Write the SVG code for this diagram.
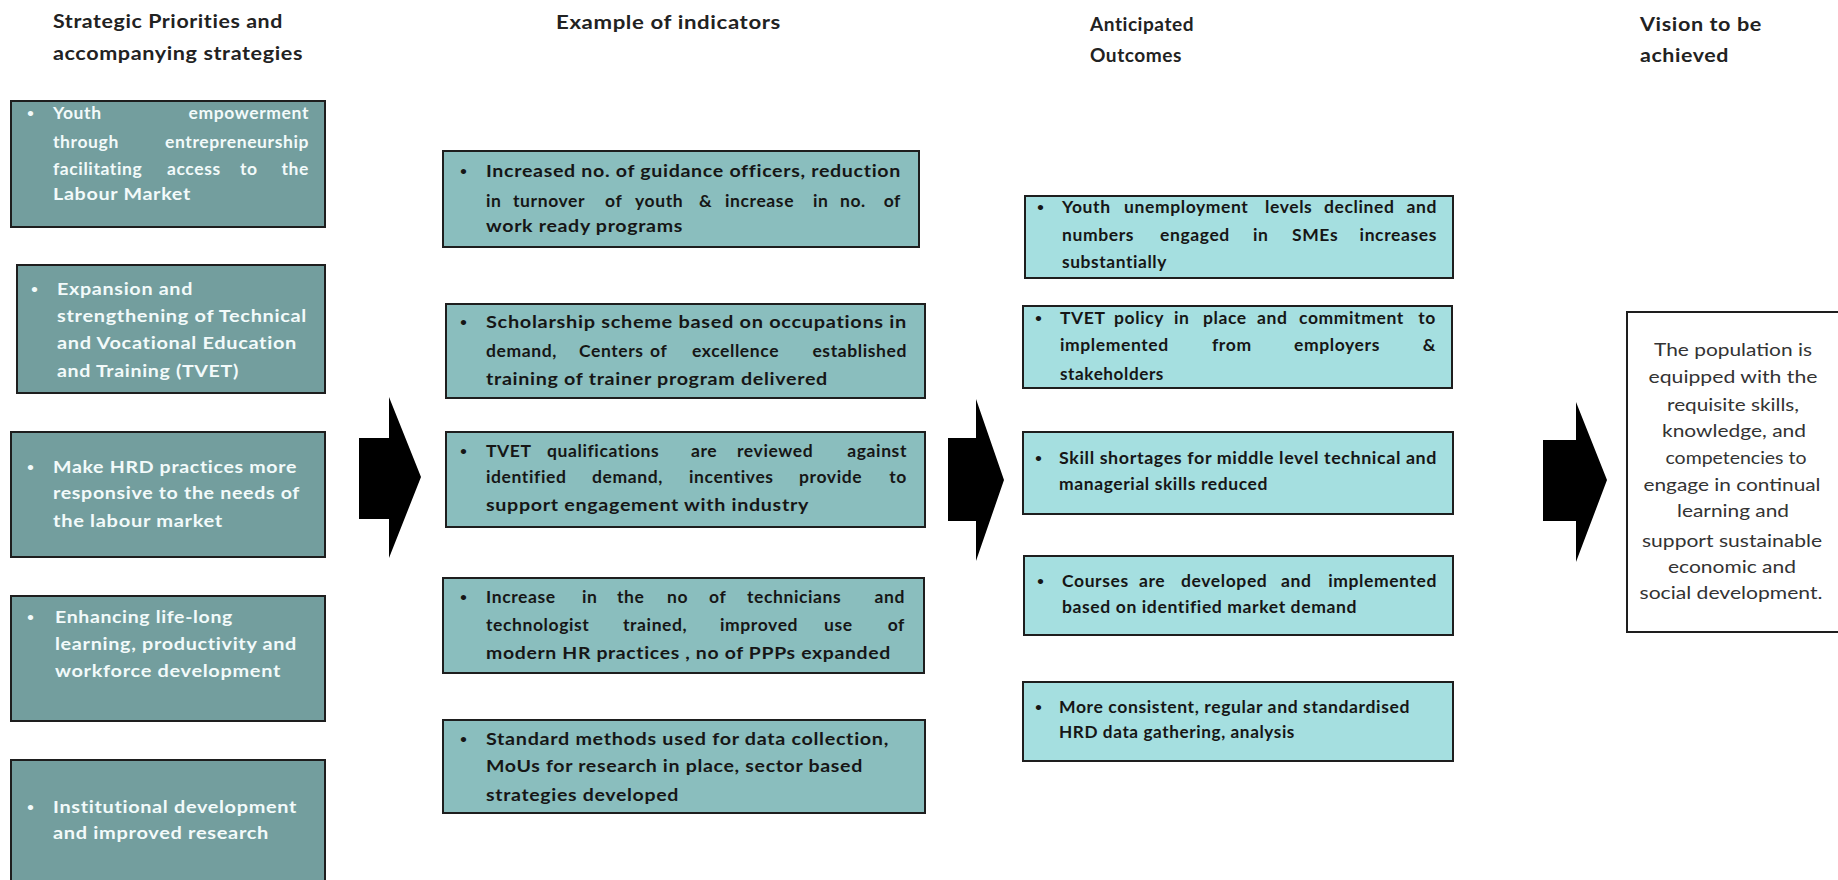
<svg xmlns="http://www.w3.org/2000/svg" width="1838" height="880" viewBox="0 0 1838 880">
<style>
.bl{fill:#739E9E;stroke:#1e1e1e;stroke-width:2}
.bm{fill:#8ABEBE;stroke:#1e1e1e;stroke-width:2}
.br{fill:#A5DFE0;stroke:#1e1e1e;stroke-width:2}
.bv{fill:#FFFFFF;stroke:#1e1e1e;stroke-width:2}
text{font-family:Lato,"Open Sans","Liberation Sans",sans-serif;font-size:17.5px;font-weight:bold;letter-spacing:0.6px}
.tl{fill:#F2FAFA}
.t{fill:#161616}
.e{text-anchor:end}
.b{font-size:12px;letter-spacing:0}
.h{fill:#222222;font-size:18px;letter-spacing:0.5px}
.v{fill:#333333;font-weight:normal;text-anchor:middle;font-size:17.5px;letter-spacing:0}
.arrow{fill:#000000}
</style>
<g id="titles">
<text class="h" x="53" y="28" textLength="230" lengthAdjust="spacingAndGlyphs">Strategic Priorities and</text>
<text class="h" x="53" y="60" textLength="250" lengthAdjust="spacingAndGlyphs">accompanying strategies</text>
<text class="h" x="556" y="29" textLength="225" lengthAdjust="spacingAndGlyphs">Example of indicators</text>
<text class="h" x="1090" y="31" textLength="104" lengthAdjust="spacingAndGlyphs">Anticipated</text>
<text class="h" x="1090" y="62" textLength="92" lengthAdjust="spacingAndGlyphs">Outcomes</text>
<text class="h" x="1640" y="31" textLength="122" lengthAdjust="spacingAndGlyphs">Vision to be</text>
<text class="h" x="1640" y="62" textLength="89" lengthAdjust="spacingAndGlyphs">achieved</text>
</g>
<g id="connectors">
<polygon class="arrow" points="359,438 389,438 389,397 421,477 389,558 389,519 359,519"/>
<polygon class="arrow" points="948,438 976,438 976,399 1004,480 976,561 976,521 948,521"/>
<polygon class="arrow" points="1543,440 1576,440 1576,402 1607,480 1576,562 1576,521 1543,521"/>
</g>
<g id="sp1">
<rect class="bl" x="11" y="101" width="314" height="126"/>
<text class="tl b" x="27" y="117">•</text>
<text class="tl" x="53" y="119">Youth</text><text class="tl e" x="309" y="119">empowerment</text>
<text class="tl" x="53" y="148">through</text><text class="tl e" x="309" y="148">entrepreneurship</text>
<text class="tl" y="175"><tspan x="53">facilitating</tspan><tspan x="167">access</tspan><tspan x="240">to</tspan></text><text class="tl e" x="309" y="175">the</text>
<text class="tl" x="53" y="200" textLength="138" lengthAdjust="spacingAndGlyphs">Labour Market</text>
</g>
<g id="sp2">
<rect class="bl" x="17" y="265" width="308" height="128"/>
<text class="tl b" x="31" y="293">•</text>
<text class="tl" x="57" y="295" textLength="136" lengthAdjust="spacingAndGlyphs">Expansion and</text>
<text class="tl" x="57" y="322" textLength="250" lengthAdjust="spacingAndGlyphs">strengthening of Technical</text>
<text class="tl" x="57" y="349" textLength="240" lengthAdjust="spacingAndGlyphs">and Vocational Education</text>
<text class="tl" x="57" y="377" textLength="182" lengthAdjust="spacingAndGlyphs">and Training (TVET)</text>
</g>
<g id="sp3">
<rect class="bl" x="11" y="432" width="314" height="125"/>
<text class="tl b" x="27" y="471">•</text>
<text class="tl" x="53" y="473" textLength="244" lengthAdjust="spacingAndGlyphs">Make HRD practices more</text>
<text class="tl" x="53" y="499" textLength="247" lengthAdjust="spacingAndGlyphs">responsive to the needs of</text>
<text class="tl" x="53" y="527" textLength="170" lengthAdjust="spacingAndGlyphs">the labour market</text>
</g>
<g id="sp4">
<rect class="bl" x="11" y="596" width="314" height="125"/>
<text class="tl b" x="27" y="621">•</text>
<text class="tl" x="55" y="623" textLength="178" lengthAdjust="spacingAndGlyphs">Enhancing life-long</text>
<text class="tl" x="55" y="650" textLength="242" lengthAdjust="spacingAndGlyphs">learning, productivity and</text>
<text class="tl" x="55" y="677" textLength="226" lengthAdjust="spacingAndGlyphs">workforce development</text>
</g>
<g id="sp5">
<rect class="bl" x="11" y="760" width="314" height="140"/>
<text class="tl b" x="27" y="811">•</text>
<text class="tl" x="53" y="813" textLength="244" lengthAdjust="spacingAndGlyphs">Institutional development</text>
<text class="tl" x="53" y="839" textLength="216" lengthAdjust="spacingAndGlyphs">and improved research</text>
</g>
<g id="ind1">
<rect class="bm" x="443" y="151" width="476" height="96"/>
<text class="t b" x="460" y="175">•</text>
<text class="t" x="486" y="177" textLength="415" lengthAdjust="spacingAndGlyphs">Increased no. of guidance officers, reduction</text>
<text class="t" y="207"><tspan x="486">in</tspan><tspan x="513">turnover</tspan><tspan x="605">of</tspan><tspan x="635">youth</tspan><tspan x="699">&amp;</tspan><tspan x="725">increase</tspan><tspan x="813">in</tspan><tspan x="840">no.</tspan></text><text class="t e" x="901" y="207">of</text>
<text class="t" x="486" y="232" textLength="197" lengthAdjust="spacingAndGlyphs">work ready programs</text>
</g>
<g id="ind2">
<rect class="bm" x="446" y="304" width="479" height="94"/>
<text class="t b" x="460" y="326">•</text>
<text class="t" x="486" y="328" textLength="421" lengthAdjust="spacingAndGlyphs">Scholarship scheme based on occupations in</text>
<text class="t" y="357"><tspan x="486">demand,</tspan><tspan x="579">Centers</tspan><tspan x="650">of</tspan><tspan x="692">excellence</tspan></text><text class="t e" x="907" y="357">established</text>
<text class="t" x="486" y="385" textLength="342" lengthAdjust="spacingAndGlyphs">training of trainer program delivered</text>
</g>
<g id="ind3">
<rect class="bm" x="446" y="432" width="479" height="95"/>
<text class="t b" x="460" y="455">•</text>
<text class="t" y="457"><tspan x="486">TVET</tspan><tspan x="547">qualifications</tspan><tspan x="691">are</tspan><tspan x="737">reviewed</tspan></text><text class="t e" x="907" y="457">against</text>
<text class="t" y="483"><tspan x="486">identified</tspan><tspan x="592">demand,</tspan><tspan x="689">incentives</tspan><tspan x="799">provide</tspan></text><text class="t e" x="907" y="483">to</text>
<text class="t" x="486" y="511" textLength="323" lengthAdjust="spacingAndGlyphs">support engagement with industry</text>
</g>
<g id="ind4">
<rect class="bm" x="443" y="578" width="481" height="95"/>
<text class="t b" x="460" y="601">•</text>
<text class="t" y="603"><tspan x="486">Increase</tspan><tspan x="582">in</tspan><tspan x="617">the</tspan><tspan x="667">no</tspan><tspan x="709">of</tspan><tspan x="747">technicians</tspan></text><text class="t e" x="905" y="603">and</text>
<text class="t" y="631"><tspan x="486">technologist</tspan><tspan x="623">trained,</tspan><tspan x="720">improved</tspan><tspan x="824">use</tspan></text><text class="t e" x="905" y="631">of</text>
<text class="t" x="486" y="659" textLength="405" lengthAdjust="spacingAndGlyphs">modern HR practices , no of PPPs expanded</text>
</g>
<g id="ind5">
<rect class="bm" x="443" y="720" width="482" height="93"/>
<text class="t b" x="460" y="743">•</text>
<text class="t" x="486" y="745" textLength="403" lengthAdjust="spacingAndGlyphs">Standard methods used for data collection,</text>
<text class="t" x="486" y="772" textLength="377" lengthAdjust="spacingAndGlyphs">MoUs for research in place, sector based</text>
<text class="t" x="486" y="801" textLength="193" lengthAdjust="spacingAndGlyphs">strategies developed</text>
</g>
<g id="out1">
<rect class="br" x="1025" y="196" width="428" height="82"/>
<text class="t b" x="1037" y="211">•</text>
<text class="t" y="213"><tspan x="1062">Youth</tspan><tspan x="1124">unemployment</tspan><tspan x="1265">levels</tspan><tspan x="1324">declined</tspan></text><text class="t e" x="1437" y="213">and</text>
<text class="t" y="241"><tspan x="1062">numbers</tspan><tspan x="1160">engaged</tspan><tspan x="1253">in</tspan><tspan x="1292">SMEs</tspan></text><text class="t e" x="1437" y="241">increases</text>
<text class="t" x="1062" y="268" textLength="105" lengthAdjust="spacingAndGlyphs">substantially</text>
</g>
<g id="out2">
<rect class="br" x="1023" y="306" width="429" height="82"/>
<text class="t b" x="1035" y="322">•</text>
<text class="t" y="324"><tspan x="1060">TVET</tspan><tspan x="1114">policy</tspan><tspan x="1174">in</tspan><tspan x="1203">place</tspan><tspan x="1257">and</tspan><tspan x="1299">commitment</tspan></text><text class="t e" x="1436" y="324">to</text>
<text class="t" y="351"><tspan x="1060">implemented</tspan><tspan x="1212">from</tspan><tspan x="1294">employers</tspan></text><text class="t e" x="1436" y="351">&amp;</text>
<text class="t" x="1060" y="380" textLength="104" lengthAdjust="spacingAndGlyphs">stakeholders</text>
</g>
<g id="out3">
<rect class="br" x="1023" y="432" width="430" height="82"/>
<text class="t b" x="1035" y="462">•</text>
<text class="t" x="1059" y="464" textLength="378" lengthAdjust="spacingAndGlyphs">Skill shortages for middle level technical and</text>
<text class="t" x="1059" y="490" textLength="209" lengthAdjust="spacingAndGlyphs">managerial skills reduced</text>
</g>
<g id="out4">
<rect class="br" x="1024" y="556" width="429" height="79"/>
<text class="t b" x="1037" y="585">•</text>
<text class="t" y="587"><tspan x="1062">Courses</tspan><tspan x="1139">are</tspan><tspan x="1181">developed</tspan><tspan x="1281">and</tspan></text><text class="t e" x="1437" y="587">implemented</text>
<text class="t" x="1062" y="613" textLength="295" lengthAdjust="spacingAndGlyphs">based on identified market demand</text>
</g>
<g id="out5">
<rect class="br" x="1023" y="682" width="430" height="79"/>
<text class="t b" x="1035" y="711">•</text>
<text class="t" x="1059" y="713" textLength="351" lengthAdjust="spacingAndGlyphs">More consistent, regular and standardised</text>
<text class="t" x="1059" y="738" textLength="236" lengthAdjust="spacingAndGlyphs">HRD data gathering, analysis</text>
</g>
<g id="vision">
<rect class="bv" x="1627" y="312" width="220" height="320"/>
<text class="v" x="1733" y="356" textLength="158" lengthAdjust="spacingAndGlyphs">The population is</text>
<text class="v" x="1733" y="383" textLength="169" lengthAdjust="spacingAndGlyphs">equipped with the</text>
<text class="v" x="1733" y="411" textLength="132" lengthAdjust="spacingAndGlyphs">requisite skills,</text>
<text class="v" x="1734" y="437" textLength="144" lengthAdjust="spacingAndGlyphs">knowledge, and</text>
<text class="v" x="1736" y="464" textLength="141" lengthAdjust="spacingAndGlyphs">competencies to</text>
<text class="v" x="1732" y="491" textLength="177" lengthAdjust="spacingAndGlyphs">engage in continual</text>
<text class="v" x="1733" y="517" textLength="112" lengthAdjust="spacingAndGlyphs">learning and</text>
<text class="v" x="1732" y="547" textLength="180" lengthAdjust="spacingAndGlyphs">support sustainable</text>
<text class="v" x="1732" y="573" textLength="128" lengthAdjust="spacingAndGlyphs">economic and</text>
<text class="v" x="1731" y="599" textLength="183" lengthAdjust="spacingAndGlyphs">social development.</text>
</g>
</svg>
